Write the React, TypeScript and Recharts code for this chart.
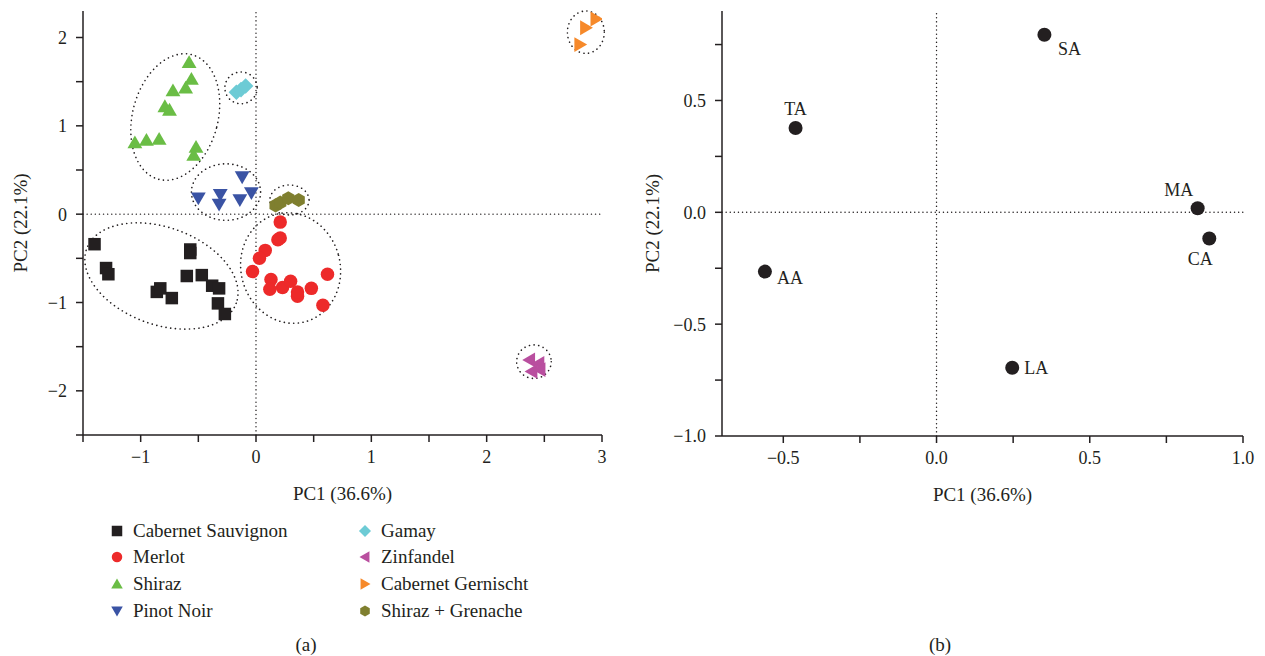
import React from 'react';
import { ScatterChart, Scatter, XAxis, YAxis, ReferenceLine, ReferenceArea } from 'recharts';

const FONT = '"Liberation Serif", "Times New Roman", serif';
const INK = '#231f20';

// ---------- (a) sample scores ----------
const cabernetSauvignon = [
  { x: -1.40, y: -0.34 }, { x: -1.30, y: -0.61 }, { x: -1.28, y: -0.68 }, { x: -0.86, y: -0.88 },
  { x: -0.83, y: -0.84 }, { x: -0.73, y: -0.95 }, { x: -0.60, y: -0.70 }, { x: -0.57, y: -0.40 },
  { x: -0.57, y: -0.44 }, { x: -0.47, y: -0.69 }, { x: -0.38, y: -0.81 }, { x: -0.32, y: -0.84 },
  { x: -0.33, y: -1.01 }, { x: -0.27, y: -1.13 },
];
const merlot = [
  { x: 0.21, y: -0.09 }, { x: 0.19, y: -0.29 }, { x: 0.21, y: -0.27 }, { x: 0.08, y: -0.41 },
  { x: 0.03, y: -0.50 }, { x: -0.03, y: -0.65 }, { x: 0.13, y: -0.74 }, { x: 0.12, y: -0.85 },
  { x: 0.23, y: -0.83 }, { x: 0.30, y: -0.76 }, { x: 0.36, y: -0.93 }, { x: 0.36, y: -0.88 },
  { x: 0.48, y: -0.84 }, { x: 0.62, y: -0.68 }, { x: 0.58, y: -1.03 },
];
const shiraz = [
  { x: -0.58, y: 1.72 }, { x: -0.56, y: 1.53 }, { x: -0.61, y: 1.43 }, { x: -0.72, y: 1.40 },
  { x: -0.79, y: 1.22 }, { x: -0.75, y: 1.18 }, { x: -1.05, y: 0.81 }, { x: -0.95, y: 0.84 },
  { x: -0.84, y: 0.85 }, { x: -0.52, y: 0.76 }, { x: -0.54, y: 0.67 },
];
const pinotNoir = [
  { x: -0.12, y: 0.42 }, { x: -0.50, y: 0.18 }, { x: -0.31, y: 0.22 }, { x: -0.32, y: 0.11 },
  { x: -0.14, y: 0.16 }, { x: -0.04, y: 0.24 },
];
const gamay = [{ x: -0.17, y: 1.38 }, { x: -0.13, y: 1.41 }, { x: -0.09, y: 1.45 }];
const zinfandel = [{ x: 2.37, y: -1.65 }, { x: 2.45, y: -1.69 }, { x: 2.39, y: -1.78 }, { x: 2.46, y: -1.76 }];
const cabernetGernischt = [{ x: 2.95, y: 2.21 }, { x: 2.86, y: 2.11 }, { x: 2.81, y: 1.92 }];
const shirazGrenache = [{ x: 0.17, y: 0.10 }, { x: 0.21, y: 0.13 }, { x: 0.28, y: 0.18 }, { x: 0.37, y: 0.16 }];

// group ellipses: centre, half-axes (data units), tilt (degrees)
const groupEllipses = [
  { cx: -0.70, cy: 1.10, rx: 0.37, ry: 0.73, angle: 15 },
  { cx: -0.13, cy: 1.43, rx: 0.14, ry: 0.18, angle: 0 },
  { cx: -0.26, cy: 0.25, rx: 0.30, ry: 0.32, angle: 0 },
  { cx: 0.29, cy: 0.16, rx: 0.17, ry: 0.17, angle: 0 },
  { cx: -0.82, cy: -0.70, rx: 0.69, ry: 0.55, angle: 20 },
  { cx: 0.30, cy: -0.61, rx: 0.43, ry: 0.63, angle: -15 },
  { cx: 2.41, cy: -1.67, rx: 0.15, ry: 0.19, angle: 0 },
  { cx: 2.86, cy: 2.06, rx: 0.16, ry: 0.24, angle: 0 },
];

const series = [
  { name: 'Cabernet Sauvignon', data: cabernetSauvignon, color: '#231f20', kind: 'square' },
  { name: 'Merlot', data: merlot, color: '#ed2a2a', kind: 'circle' },
  { name: 'Shiraz', data: shiraz, color: '#6abd45', kind: 'up' },
  { name: 'Pinot Noir', data: pinotNoir, color: '#3a53a4', kind: 'down' },
  { name: 'Gamay', data: gamay, color: '#6dcbd5', kind: 'diamond' },
  { name: 'Zinfandel', data: zinfandel, color: '#b94f9f', kind: 'left' },
  { name: 'Cabernet Gernischt', data: cabernetGernischt, color: '#f6892a', kind: 'right' },
  { name: 'Shiraz + Grenache', data: shirazGrenache, color: '#7f7f2f', kind: 'hex' },
];

const leftXTicks = [-1.5, -1, -0.5, 0, 0.5, 1, 1.5, 2, 2.5, 3];
const leftYTicks = [-2.5, -2, -1.5, -1, -0.5, 0, 0.5, 1, 1.5, 2];

// ---------- (b) loadings ----------
const loadingNames = ['SA', 'TA', 'MA', 'CA', 'AA', 'LA'];
const loadingPC1 = [0.352, -0.46, 0.852, 0.89, -0.56, 0.247];
const loadingPC2 = [0.794, 0.377, 0.018, -0.117, -0.265, -0.695];
const loadings = loadingNames.map((n, i) => ({ name: n, x: loadingPC1[i], y: loadingPC2[i] }));
const rightXTicks = [-0.5, -0.25, 0, 0.25, 0.5, 0.75, 1.0];
const rightYTicks = [-1.0, -0.75, -0.5, -0.25, 0, 0.25, 0.5, 0.75];

const labelOffset: Record<string, [number, number]> = {
  SA: [25, 14], TA: [0, -19], MA: [-19, -18], CA: [-9, 21], AA: [25, 6], LA: [24, 0],
};

const minus = (s: string) => s.replace('-', '\u2212');

function glyph(kind: string, cx: number, cy: number, s: number, color: string) {
  const h = s / 2;
  const pts = (arr: number[][]) => arr.map(([a, b]) => `${cx + a},${cy + b}`).join(' ');
  switch (kind) {
    case 'square':
      return <rect x={cx - h} y={cy - h} width={s} height={s} fill={color} />;
    case 'circle':
      return <circle cx={cx} cy={cy} r={h} fill={color} />;
    case 'up':
      return <polygon points={pts([[0, -h * 1.05], [h * 1.1, h * 0.85], [-h * 1.1, h * 0.85]])} fill={color} />;
    case 'down':
      return <polygon points={pts([[0, h * 1.05], [h * 1.1, -h * 0.85], [-h * 1.1, -h * 0.85]])} fill={color} />;
    case 'left':
      return <polygon points={pts([[-h * 1.05, 0], [h * 0.85, -h * 1.1], [h * 0.85, h * 1.1]])} fill={color} />;
    case 'right':
      return <polygon points={pts([[h * 1.05, 0], [-h * 0.85, -h * 1.1], [-h * 0.85, h * 1.1]])} fill={color} />;
    case 'diamond':
      return <polygon points={pts([[0, -h * 1.15], [h * 1.15, 0], [0, h * 1.15], [-h * 1.15, 0]])} fill={color} />;
    case 'hex': {
      const r = h * 1.05;
      const arr: number[][] = [];
      for (let k = 0; k < 6; k++) {
        const a = (Math.PI / 3) * k + Math.PI / 6;
        arr.push([r * Math.cos(a), r * Math.sin(a)]);
      }
      return <polygon points={pts(arr)} fill={color} />;
    }
    default:
      return <circle cx={cx} cy={cy} r={h} fill={color} />;
  }
}

const makeShape = (kind: string, color: string) => (p: any) => (
  <g>{glyph(kind, p.cx, p.cy, kind === 'square' ? 12.5 : 13.5, color)}</g>
);

const ellipseShape = (angle: number) => (p: any) => {
  const { x, y, width, height } = p;
  const cx = x + width / 2;
  const cy = y + height / 2;
  return (
    <ellipse
      cx={cx}
      cy={cy}
      rx={Math.abs(width) / 2}
      ry={Math.abs(height) / 2}
      transform={`rotate(${angle}, ${cx}, ${cy})`}
      fill="none"
      stroke={INK}
      strokeWidth={1.6}
      strokeDasharray="0.1 4.6"
      strokeLinecap="round"
    />
  );
};

const tickStyle = { fill: INK, fontSize: 18, fontFamily: FONT };
const axisLine = { stroke: INK, strokeWidth: 1.5 };

const xTitle = (text: string) => (props: any) => {
  const vb = props.viewBox || {};
  return (
    <text x={vb.x + vb.width / 2} y={vb.y + 58} textAnchor="middle" dominantBaseline="central"
      fill={INK} fontSize={19} fontFamily={FONT}>{text}</text>
  );
};
const yTitle = (text: string, dx: number) => (props: any) => {
  const vb = props.viewBox || {};
  const x = vb.x + dx;
  const y = vb.y + vb.height / 2;
  return (
    <text x={x} y={y} transform={`rotate(-90, ${x}, ${y})`} textAnchor="middle" dominantBaseline="central"
      fill={INK} fontSize={19} fontFamily={FONT}>{text}</text>
  );
};

const leftFmt = (v: number) => (Number.isInteger(v) ? minus(String(v)) : '');
const rightFmt = (v: number) => (Math.abs(v * 2 - Math.round(v * 2)) < 1e-9 ? minus(v.toFixed(1)) : '');

function LeftChart() {
  return (
    <ScatterChart width={620} height={520} margin={{ top: 11, right: 18, bottom: 25, left: 3 }}>
      <XAxis type="number" dataKey="x" domain={[-1.5, 3]} ticks={leftXTicks} interval={0}
        allowDataOverflow tickFormatter={leftFmt} tickSize={7} tickMargin={8} height={60}
        axisLine={axisLine} tickLine={axisLine} tick={tickStyle} label={xTitle('PC1 (36.6%)')} />
      <XAxis xAxisId="top" orientation="top" type="number" domain={[-1.5, 3]} height={0}
        tick={false} tickLine={false} axisLine={axisLine} />
      <YAxis type="number" dataKey="y" domain={[-2.5, 2.3]} ticks={leftYTicks} interval={0}
        allowDataOverflow tickFormatter={leftFmt} tickSize={7} tickMargin={9} width={80}
        axisLine={axisLine} tickLine={axisLine} tick={tickStyle} label={yTitle('PC2 (22.1%)', 17)} />
      <YAxis yAxisId="right" orientation="right" type="number" domain={[-2.5, 2.3]} width={0}
        tick={false} tickLine={false} axisLine={axisLine} />
      <ReferenceLine x={0} stroke={INK} strokeWidth={1.4} strokeDasharray="0.1 4" strokeLinecap="round" />
      <ReferenceLine y={0} stroke={INK} strokeWidth={1.4} strokeDasharray="0.1 4" strokeLinecap="round" />
      {groupEllipses.map((e, i) => (
        <ReferenceArea key={'e' + i} x1={e.cx - e.rx} x2={e.cx + e.rx} y1={e.cy - e.ry} y2={e.cy + e.ry}
          ifOverflow="visible" shape={ellipseShape(e.angle)} />
      ))}
      {series.map((s) => (
        <Scatter key={s.name} name={s.name} data={s.data} fill={s.color}
          shape={makeShape(s.kind, s.color)} isAnimationActive={false} />
      ))}
    </ScatterChart>
  );
}

const loadingShape = (p: any) => {
  const name = p.payload?.name as string;
  const [dx, dy] = labelOffset[name] || [0, 0];
  return (
    <g>
      <circle cx={p.cx} cy={p.cy} r={7} fill={INK} />
      <text x={p.cx + dx} y={p.cy + dy} textAnchor="middle" dominantBaseline="central"
        fill={INK} fontSize={18} fontFamily={FONT}>{name}</text>
    </g>
  );
};

function RightChart() {
  return (
    <ScatterChart width={625} height={520} margin={{ top: 11, right: 22, bottom: 24, left: 2 }}>
      <XAxis type="number" dataKey="x" domain={[-0.7, 1.0]} ticks={rightXTicks} interval={0}
        allowDataOverflow tickFormatter={rightFmt} tickSize={7} tickMargin={8} height={60}
        axisLine={axisLine} tickLine={axisLine} tick={tickStyle} label={xTitle('PC1 (36.6%)')} />
      <XAxis xAxisId="top" orientation="top" type="number" domain={[-0.7, 1.0]} height={0}
        tick={false} tickLine={false} axisLine={axisLine} />
      <YAxis type="number" dataKey="y" domain={[-1.0, 0.9]} ticks={rightYTicks} interval={0}
        allowDataOverflow tickFormatter={rightFmt} tickSize={7} tickMargin={9} width={80}
        axisLine={axisLine} tickLine={axisLine} tick={tickStyle} label={yTitle('PC2 (22.1%)', 10)} />
      <YAxis yAxisId="right" orientation="right" type="number" domain={[-1.0, 0.9]} width={0}
        tick={false} tickLine={false} axisLine={axisLine} />
      <ReferenceLine x={0} stroke={INK} strokeWidth={1.4} strokeDasharray="0.1 4" strokeLinecap="round" />
      <ReferenceLine y={0} stroke={INK} strokeWidth={1.4} strokeDasharray="0.1 4" strokeLinecap="round" />
      <Scatter name="Loadings" data={loadings} fill={INK} shape={loadingShape} isAnimationActive={false} />
    </ScatterChart>
  );
}

function LegendBlock() {
  const cols = [series.slice(0, 4), series.slice(4, 8)];
  const colX = [108, 356];
  const rowY = [531, 557, 584, 611];
  return (
    <>
      {cols.map((col, ci) =>
        col.map((s, ri) => (
          <div key={s.name} style={{ position: 'absolute', left: colX[ci], top: rowY[ri] - 13, height: 26,
            display: 'flex', alignItems: 'center', whiteSpace: 'nowrap' }}>
            <svg width={18} height={26} style={{ display: 'block' }}>
              {glyph(s.kind, 9, 13, 10.5, s.color)}
            </svg>
            <span style={{ marginLeft: 7, fontSize: 19, fontFamily: FONT, color: INK }}>{s.name}</span>
          </div>
        ))
      )}
    </>
  );
}

export default function App() {
  return (
    <div style={{ position: 'absolute', left: 0, top: 0, width: 1265, height: 656, background: '#fff', overflow: 'hidden' }}>
      <div style={{ position: 'absolute', left: 0, top: 0 }}>
        <LeftChart />
      </div>
      <div style={{ position: 'absolute', left: 640, top: 0 }}>
        <RightChart />
      </div>
      <LegendBlock />
      <div style={{ position: 'absolute', left: 306, top: 645, transform: 'translate(-50%, -50%)', fontSize: 19, fontFamily: FONT, color: INK }}>(a)</div>
      <div style={{ position: 'absolute', left: 940, top: 645, transform: 'translate(-50%, -50%)', fontSize: 19, fontFamily: FONT, color: INK }}>(b)</div>
    </div>
  );
}
